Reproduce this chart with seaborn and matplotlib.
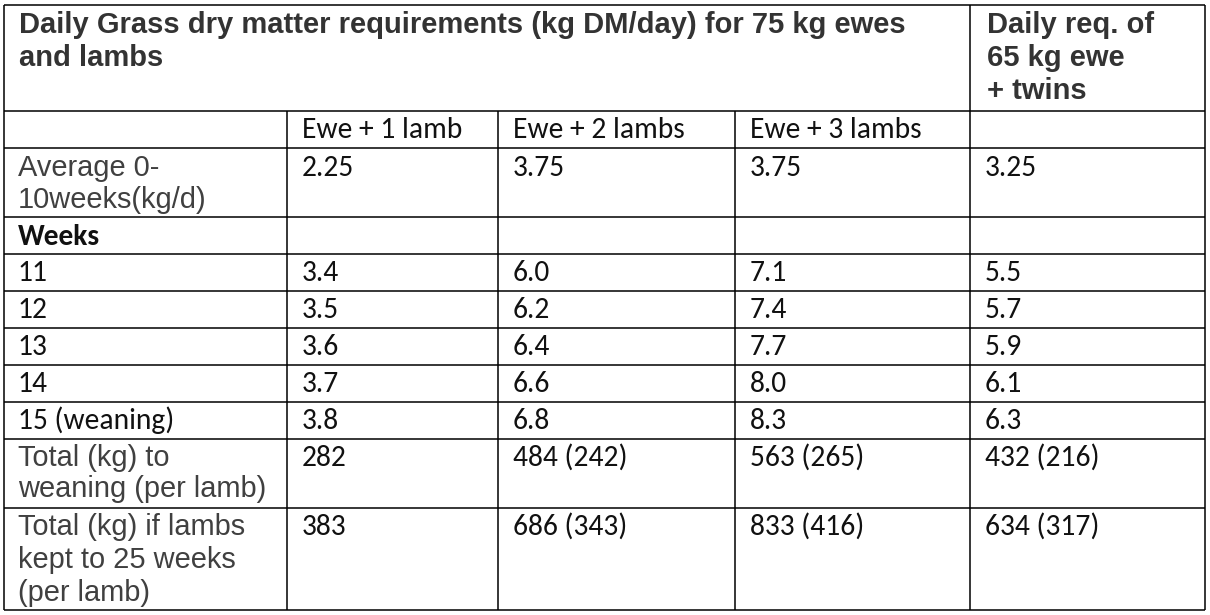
import matplotlib
matplotlib.use("Agg")
import matplotlib.pyplot as plt
from matplotlib import font_manager
import seaborn as sns

# table content
title_lines = ["Daily Grass dry matter requirements (kg DM/day) for 75 kg ewes", "and lambs"]
side_title_lines = ["Daily req. of", "65 kg ewe", "+ twins"]
col_headers = ["Ewe + 1 lamb", "Ewe + 2 lambs", "Ewe + 3 lambs", ""]
avg_label = ["Average 0-", "10weeks(kg/d)"]
avg_values = [2.25, 3.75, 3.75, 3.25]
weeks = ["11", "12", "13", "14", "15 (weaning)"]
ewe_1_lamb = [3.4, 3.5, 3.6, 3.7, 3.8]
ewe_2_lambs = [6.0, 6.2, 6.4, 6.6, 6.8]
ewe_3_lambs = [7.1, 7.4, 7.7, 8.0, 8.3]
ewe65_twins = [5.5, 5.7, 5.9, 6.1, 6.3]
wean_label = ["Total (kg) to", "weaning (per lamb)"]
wean_total = [282, 484, 563, 432]
wean_per_lamb = [None, 242, 265, 216]
kept_label = ["Total (kg) if lambs", "kept to 25 weeks", "(per lamb)"]
kept_total = [383, 686, 833, 634]
kept_per_lamb = [None, 343, 416, 317]

sns.set_theme(style="white")
installed = {f.name for f in font_manager.fontManager.ttflist}
body_font = "Carlito" if "Carlito" in installed else "Lato"
head_font = "Liberation Sans"

# layout (pixels)
col_edges = [4, 287, 498, 735, 970, 1205]
row_edges = [5, 110.5, 147.5, 216.5, 253.5, 290.5, 327.5, 364.5, 401.5, 438.5, 507.5, 610]

fig = plt.figure(figsize=(12.1, 6.15), dpi=100)
ax = fig.add_axes([0, 0, 1, 1])
ax.set_xlim(0, 1210)
ax.set_ylim(615, 0)
ax.axis("off")
renderer = fig.canvas.get_renderer()


def fit_size(text, family, weight, target):
    t = ax.text(0, 0, text, fontsize=10, family=family, weight=weight)
    w = t.get_window_extent(renderer=renderer).width
    t.remove()
    return 10 * target / w


title_size = fit_size(title_lines[0], head_font, "bold", 889)
label_size = fit_size(wean_label[1], head_font, "normal", 249)
body_size = fit_size(col_headers[0], body_font, "normal", 156) * 1.03

# grid lines
ax.hlines(row_edges, col_edges[0], col_edges[-1], color="black", lw=1.1)
ax.vlines([col_edges[0], col_edges[4], col_edges[5]], row_edges[0], row_edges[-1], color="black", lw=1.1)
ax.vlines(col_edges[1:4], row_edges[1], row_edges[-1], color="black", lw=1.1)

label_x = 18
cell_x = [c + 15 for c in col_edges[1:5]]


def head(x, y, s):
    ax.text(x, y, s, family=head_font, weight="bold", fontsize=title_size,
            color="#333333", va="baseline")


def label(y, s):
    ax.text(label_x, y, s, family=head_font, fontsize=label_size,
            color="#404040", va="baseline")


def body(x, y, s, weight="normal"):
    ax.text(x, y, s, family=body_font, weight=weight, fontsize=body_size,
            color="#111111", va="baseline")


for y, s in zip([33, 66], title_lines):
    head(label_x + 1, y, s)
for y, s in zip([33, 66, 99], side_title_lines):
    head(cell_x[3] + 2, y, s)

for x, s in zip(cell_x, col_headers):
    body(x, 138.5, s)

for y, s in zip([176, 208], avg_label):
    label(y, s)
for x, v in zip(cell_x, avg_values):
    body(x, 176, f"{v:.2f}")

body(label_x, 245, "Weeks", weight="bold")

for i, wk in enumerate(weeks):
    y = row_edges[4 + i] + 27.5
    body(label_x, y, wk)
    for x, series in zip(cell_x, [ewe_1_lamb, ewe_2_lambs, ewe_3_lambs, ewe65_twins]):
        body(x, y, f"{series[i]:.1f}")

for y, s in zip([466, 497], wean_label):
    label(y, s)
for x, t, p in zip(cell_x, wean_total, wean_per_lamb):
    body(x, 466, f"{t}" if p is None else f"{t} ({p})")

for y, s in zip([535, 568, 601], kept_label):
    label(y, s)
for x, t, p in zip(cell_x, kept_total, kept_per_lamb):
    body(x, 535, f"{t}" if p is None else f"{t} ({p})")

fig.savefig("out.png", dpi=100, facecolor="white")
